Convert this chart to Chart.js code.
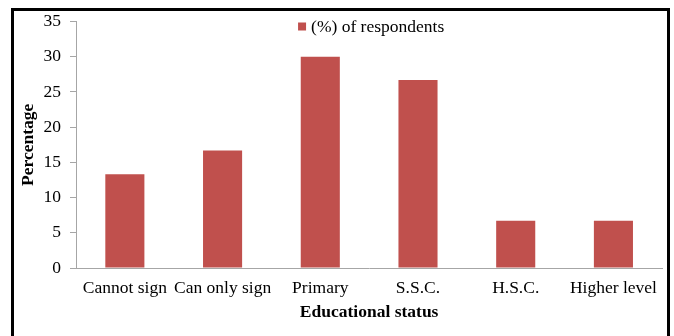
<!DOCTYPE html>
<html>
<head>
<meta charset="utf-8">
<script src="https://cdn.jsdelivr.net/npm/chart.js@4"></script>
<style>
  html, body { margin: 0; padding: 0; background: #ffffff; }
  #frame {
    position: absolute;
    left: 11px;
    top: 8px;
    width: 653px;
    height: 340px;
    border: 3px solid #000000;
  }
  #statsChart { display: block; position: relative; top: -9px; }
</style>
</head>
<body>
<div id="frame">
  <canvas id="statsChart" width="653" height="321"></canvas>
</div>
<script>
// chart data
const categories = ["Cannot sign", "Can only sign", "Primary", "S.S.C.", "H.S.C.", "Higher level"];
const respondents = [13.3, 16.7, 30, 26.7, 6.7, 6.7];
const yTicks = [0, 5, 10, 15, 20, 25, 30, 35];

const barColor = "#C0504D";
const axisColor = "#A6A6A6";
const textColor = "#000000";
const serif = "'Liberation Serif', 'Times New Roman', serif";
const fontSize = 17.5;

// legend drawn inside the plot, centred near the top
const topLegend = {
  id: "topLegend",
  afterDraw(chart) {
    const c = chart.ctx;
    const area = chart.chartArea;
    const label = chart.data.datasets[0].label;
    c.save();
    c.font = `${fontSize}px ${serif}`;
    const textW = c.measureText(label).width;
    const boxW = 8;
    const gap = 5;
    const total = boxW + gap + textW;
    const x0 = (area.left + area.right) / 2 - total / 2 + 2;
    const yMid = area.top + 5;
    c.fillStyle = chart.data.datasets[0].backgroundColor;
    c.fillRect(x0, yMid - 4, boxW, boxW);
    c.fillStyle = textColor;
    c.textBaseline = "middle";
    c.fillText(label, x0 + boxW + gap, yMid + 1);
    c.restore();
  },
};

const ctx = document.getElementById("statsChart").getContext("2d");

new Chart(ctx, {
  type: "bar",
  data: {
    labels: categories,
    datasets: [
      {
        label: "(%) of respondents",
        data: respondents,
        backgroundColor: barColor,
        borderWidth: 0,
        barPercentage: 0.4,
        categoryPercentage: 1.0,
      },
    ],
  },
  options: {
    responsive: false,
    animation: false,
    layout: { padding: { left: 0, right: 1, top: 0, bottom: 0 } },
    scales: {
      x: {
        afterFit: (scale) => {
          scale.height = 55;
        },
        grid: { display: false, drawTicks: false },
        border: { display: true, color: axisColor, width: 1 },
        ticks: {
          color: textColor,
          padding: 10,
          maxRotation: 0,
          autoSkip: false,
          font: { family: serif, size: fontSize },
        },
        title: {
          display: true,
          text: "Educational status",
          color: textColor,
          padding: { top: 0, bottom: 0 },
          font: { family: serif, size: fontSize, weight: "bold" },
        },
      },
      y: {
        min: 0,
        max: 35,
        afterBuildTicks: (scale) => {
          scale.ticks = yTicks.map((v) => ({ value: v }));
        },
        afterFit: (scale) => {
          scale.width = 62;
        },
        grid: {
          display: true,
          drawOnChartArea: false,
          drawTicks: true,
          tickLength: 6,
          color: axisColor,
        },
        border: { display: true, color: axisColor, width: 1 },
        ticks: {
          color: textColor,
          padding: 9,
          font: { family: serif, size: fontSize },
        },
        title: {
          display: true,
          text: "Percentage",
          color: textColor,
          padding: { top: 4, bottom: 0 },
          font: { family: serif, size: fontSize, weight: "bold" },
        },
      },
    },
    plugins: {
      legend: { display: false },
      tooltip: { enabled: false },
    },
  },
  plugins: [topLegend],
});
</script>
</body>
</html>
